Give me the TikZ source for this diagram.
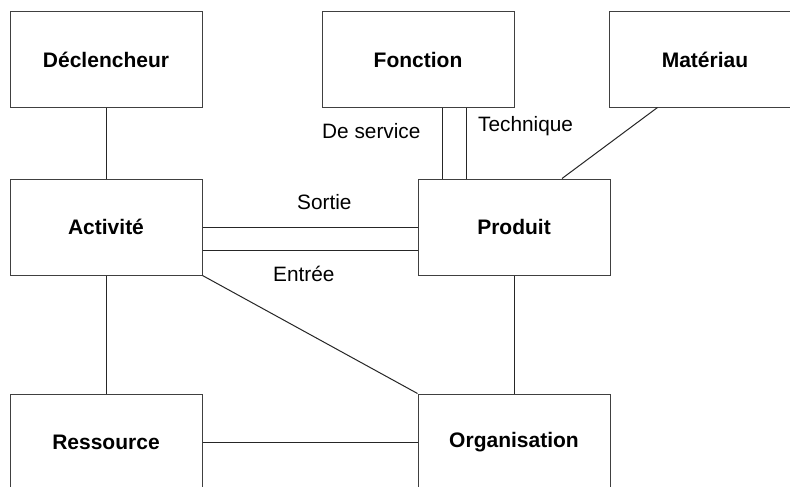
\documentclass[tikz,border=0pt]{standalone}
\usepackage{fontspec}
\setmainfont{Liberation Sans}
\begin{document}
\begin{tikzpicture}[x=1pt,y=-1pt,
  box/.style={draw=black!75, line width=1pt, fill=white, minimum width=192pt, minimum height=95pt, inner sep=0pt, font=\fontsize{21}{25}\selectfont\bfseries},
  link/.style={draw=black!85, line width=1pt},
  lab/.style={anchor=base west, inner sep=0pt, font=\fontsize{20.8}{24}\selectfont}]
\useasboundingbox (0,0) rectangle (790,487);
\fill[white] (0,0) rectangle (790,487);
\clip (0,0) rectangle (790,487);
\node[box] (dec) at (106,59.5) {Déclencheur};
\node[box] (fon) at (418,59.5) {Fonction};
\node[box] (mat) at (705,59.5) {Matériau};
\node[box, minimum height=96pt] (act) at (106,227) {Activité};
\node[box, minimum height=96pt] (pro) at (514,227) {Produit};
\node[box, minimum height=96pt] (res) at (106,442) {Ressource};
\node[box, minimum height=96pt] (org) at (514,442) {Organisation};
\draw[link] (dec.south) -- (act.north);
\draw[link] ([xshift=24pt]fon.south) -- ([xshift=24pt]fon.south |- pro.north);
\draw[link] ([xshift=48pt]fon.south) -- ([xshift=48pt]fon.south |- pro.north);
\draw[link] ([xshift=49pt]mat.south west) -- ([xshift=48pt]pro.north);
\draw[link] (act.east) -- (pro.west);
\draw[link] ([yshift=-23pt]act.east) -- ([yshift=-23pt]pro.west);
\draw[link] (act.south east) -- (org.north west);
\draw[link] (act.south) -- (res.north);
\draw[link] (pro.south) -- (org.north);
\draw[link] (res.east) -- (org.west);
\node[lab] (ds) at (322,138) {De service};
\node[lab] (te) at (478,131) {Technique};
\node[lab] (so) at (297,209) {Sortie};
\node[lab] (en) at (273,281) {Entrée};
\end{tikzpicture}
\end{document}
